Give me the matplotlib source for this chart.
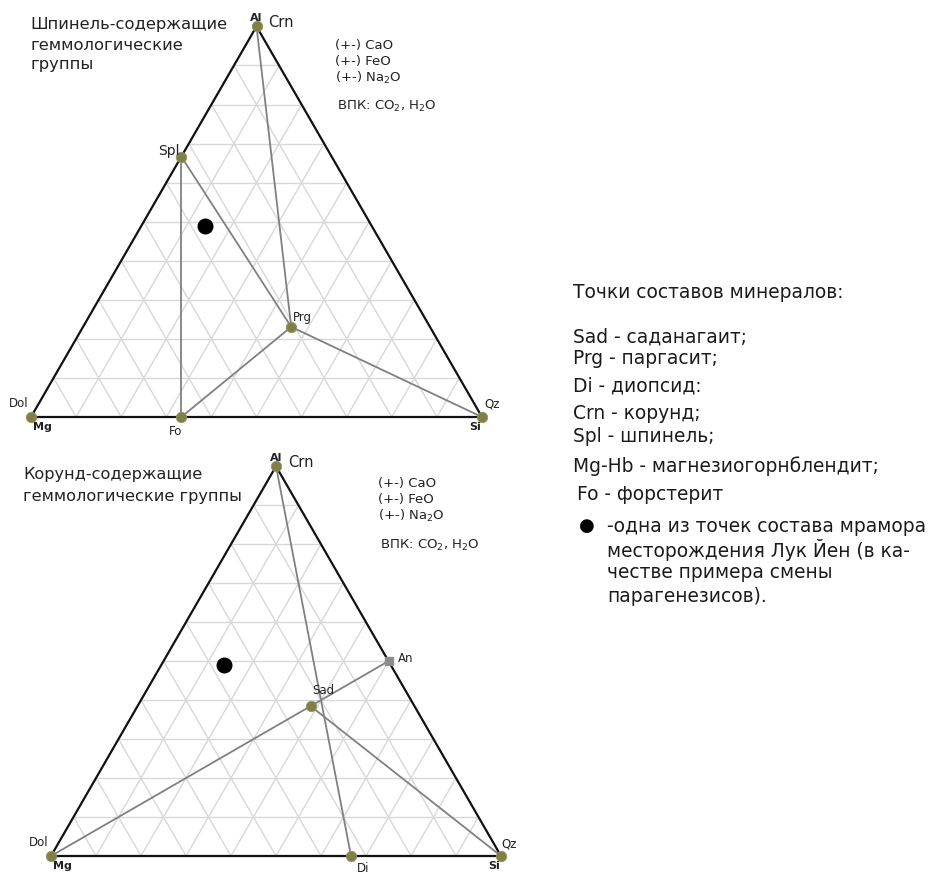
import numpy as np
import matplotlib.pyplot as plt

W, H = 930, 874
SQ3 = np.sqrt(3) / 2

# atoms of Mg, Si, Al per formula unit
names = ['Crn', 'Spl', 'Prg', 'Fo', 'Dol', 'Qz', 'Sad', 'An', 'Di']
mg = [0, 1, 4, 2, 1, 0, 3, 0, 1]
si = [0, 0, 6, 1, 0, 1, 5, 2, 2]
al = [2, 2, 3, 0, 0, 0, 5, 2, 0]

# marble sample (Mg, Si, Al fractions)
marble = [0.37, 0.14, 0.49]

top_points = ['Crn', 'Spl', 'Prg', 'Fo', 'Dol', 'Qz']
top_ties = [('Crn', 'Prg'), ('Spl', 'Prg'), ('Spl', 'Fo'), ('Fo', 'Prg'), ('Prg', 'Qz')]
bottom_points = ['Crn', 'Sad', 'An', 'Di', 'Dol', 'Qz']
bottom_ties = [('Crn', 'Di'), ('Dol', 'Sad'), ('Sad', 'An'), ('Sad', 'Qz')]

top_title = ['Шпинель-содержащие', 'геммологические', 'группы']
bottom_title = ['Корунд-содержащие', 'геммологические группы']
oxides = ['(+-) CaO', '(+-) FeO', r'(+-) Na$_2$O']
fluid = r'ВПК: CO$_2$, H$_2$O'

legend_head = 'Точки составов минералов:'
legend_lines = ['Sad - саданагаит;', 'Prg - паргасит;', 'Di - диопсид:', 'Crn - корунд;',
                'Spl - шпинель;', 'Mg-Hb - магнезиогорнблендит;', 'Fo - форстерит']
legend_dot = ['-одна из точек состава мрамора', 'месторождения Лук Йен (в ка-',
              'честве примера смены', 'парагенезисов).']

# label offsets in pixels from the point: dx, dy, ha, size
top_labels = {'Crn': (12, 4, 'left', 10.5), 'Spl': (-2, 6, 'right', 10),
              'Prg': (2, 9, 'left', 8.5), 'Fo': (-6, -14, 'center', 8.5),
              'Dol': (-12, 14, 'center', 8.5), 'Qz': (10, 13, 'center', 8.5)}
bottom_labels = {'Crn': (12, 4, 'left', 10.5), 'Sad': (2, 16, 'left', 8.5),
                 'An': (9, 3, 'left', 8.5), 'Di': (12, -13, 'center', 8.5),
                 'Dol': (-12, 13, 'center', 8.5), 'Qz': (8, 12, 'center', 8.5)}
corner_labels = {'Al': (0, 8), 'Mg': (11, -10), 'Si': (-7, -10)}

OLIVE = '#7e8048'


def to_xy(m, s, a):
    tot = m + s + a
    return (s + a / 2) / tot, a / tot * SQ3


def comp(name):
    i = names.index(name)
    return to_xy(mg[i], si[i], al[i])


def fxy(x, y):
    return x / W, 1 - y / H


def make_ax(fig, box, origin, side):
    x0, y0, w, h = box
    ox, oy = origin
    ax = fig.add_axes([x0 / W, 1 - (y0 + h) / H, w / W, h / H])
    ax.set_xlim((x0 - ox) / side, (x0 + w - ox) / side)
    ax.set_ylim((oy - (y0 + h)) / side, (oy - y0) / side)
    ax.axis('off')
    return ax


def draw_triangle(ax, points, ties, labels):
    # grid, 10 steps on each side
    for k in range(1, 10):
        f = k / 10
        for p, q in [((1 - f, 0, f), (0, 1 - f, f)),
                     ((1 - f, f, 0), (0, f, 1 - f)),
                     ((f, 1 - f, 0), (f, 0, 1 - f))]:
            x1, y1 = to_xy(*p)
            x2, y2 = to_xy(*q)
            ax.plot([x1, x2], [y1, y2], color='#d8d8d8', lw=1.0, zorder=1)
    for a, b in ties:
        xa, ya = comp(a)
        xb, yb = comp(b)
        ax.plot([xa, xb], [ya, yb], color='#808080', lw=1.3, zorder=2)
    corners = [to_xy(1, 0, 0), to_xy(0, 1, 0), to_xy(0, 0, 1), to_xy(1, 0, 0)]
    ax.plot([c[0] for c in corners], [c[1] for c in corners], color='#111111', lw=1.6, zorder=3)
    for n in points:
        x, y = comp(n)
        if n == 'An':
            ax.plot(x, y, 's', ms=5.5, color='#8c8c8c', zorder=4)
        else:
            ax.plot(x, y, 'o', ms=7.5, color=OLIVE, mec='#949660', mew=0.6, zorder=4)
        dx, dy, ha, fs = labels[n]
        ax.annotate(n, (x, y), xytext=(dx, dy), textcoords='offset pixels',
                    ha=ha, va='center', fontsize=fs, color='#222222', zorder=5)
    for n, (m, s, a) in zip(['Mg', 'Si', 'Al'], [(1, 0, 0), (0, 1, 0), (0, 0, 1)]):
        dx, dy = corner_labels[n]
        ax.annotate(n, to_xy(m, s, a), xytext=(dx, dy), textcoords='offset pixels',
                    ha='center', va='center', fontsize=8, fontweight='bold',
                    color='#222222', zorder=5)
    x, y = to_xy(*marble)
    ax.plot(x, y, 'o', ms=10.5, color='black', zorder=4)


def draw_oxides(fig, x, ys, y_fluid):
    for t, y in zip(oxides, ys):
        fig.text(*fxy(x, y), t, fontsize=9.5, va='center', color='#222222')
    fig.text(*fxy(x + 2, y_fluid), fluid, fontsize=9.5, va='center', color='#222222')


fig = plt.figure(figsize=(W / 100, H / 100), dpi=100)

ax_top = make_ax(fig, (0, 0, 530, 440), (31, 417), 451)
draw_triangle(ax_top, top_points, top_ties, top_labels)
ax_bot = make_ax(fig, (0, 440, 530, 434), (51, 856), 450)
draw_triangle(ax_bot, bottom_points, bottom_ties, bottom_labels)

for t, y in zip(top_title, [25, 45, 65]):
    fig.text(*fxy(30, y), t, fontsize=11.8, va='center', color='#222222')
for t, y in zip(bottom_title, [475, 497]):
    fig.text(*fxy(23, y), t, fontsize=11.6, va='center', color='#222222')

draw_oxides(fig, 335, [45, 62, 78], 106)
draw_oxides(fig, 378, [483, 499, 516], 545)

# legend on the right
fs_leg = 13.4
fig.text(*fxy(573, 292), legend_head, fontsize=fs_leg, va='center', color='#1a1a1a')
for t, y in zip(legend_lines, [337, 359, 386, 414, 437, 466, 495]):
    x = 577 if t.startswith('Fo') else 573
    fig.text(*fxy(x, y), t, fontsize=fs_leg, va='center', color='#1a1a1a')
fig.text(*fxy(587, 526), '●', fontsize=13, ha='center', va='center', color='black')
for t, y in zip(legend_dot, [526, 550, 573, 596]):
    fig.text(*fxy(607, y), t, fontsize=fs_leg, va='center', color='#1a1a1a')

fig.savefig('out.png', dpi=100, facecolor='white')
